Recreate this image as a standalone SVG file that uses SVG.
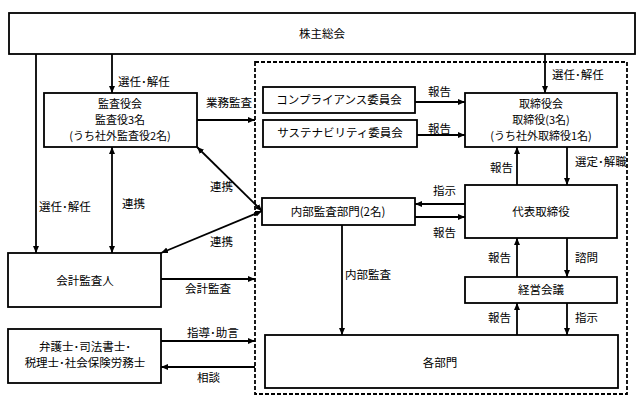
<svg xmlns="http://www.w3.org/2000/svg" width="640" height="405" viewBox="0 0 640 405">
<style>
text{font-family:"Noto Sans CJK JP","Noto Sans",sans-serif;font-size:11.5px;fill:#000}
.c{text-anchor:middle}
.m{font-size:11px}
.box{fill:#fff;stroke:#000;stroke-width:1.8}
.ln{fill:none;stroke:#000;stroke-width:1.8}
.a{marker-end:url(#ah)}
.d{marker-start:url(#ah);marker-end:url(#ah)}
.dash{fill:none;stroke:#000;stroke-width:1.8;stroke-dasharray:4 2}
</style>
<defs>
<marker id="ah" markerUnits="userSpaceOnUse" markerWidth="8" markerHeight="8" refX="7" refY="3" orient="auto-start-reverse">
<path d="M0,0 L7,3 L0,6 z" fill="#000"/>
</marker>
</defs>
<rect width="640" height="405" fill="#fff"/>
<rect class="dash" x="255" y="62" width="372" height="332"/>

<g id="connectors">
<line class="ln a" x1="36" y1="54" x2="36" y2="253"/>
<line class="ln a" x1="112" y1="54" x2="112" y2="93"/>
<line class="ln d" x1="112" y1="147" x2="112" y2="253"/>
<line class="ln d" x1="197" y1="147" x2="262" y2="211"/>
<line class="ln d" x1="161" y1="253" x2="262" y2="211"/>
<line class="ln a" x1="197" y1="120" x2="255" y2="120"/>
<line class="ln a" x1="161" y1="279" x2="255" y2="279"/>
<line class="ln a" x1="161" y1="341" x2="255" y2="341"/>
<line class="ln a" x1="255" y1="367" x2="161" y2="367"/>
<line class="ln a" x1="415" y1="102" x2="465" y2="102"/>
<line class="ln a" x1="417" y1="135" x2="465" y2="135"/>
<line class="ln a" x1="545" y1="54" x2="545" y2="93"/>
<line class="ln a" x1="517" y1="185" x2="517" y2="147"/>
<line class="ln a" x1="567" y1="147" x2="567" y2="185"/>
<line class="ln a" x1="465" y1="204" x2="415" y2="204"/>
<line class="ln a" x1="415" y1="217" x2="465" y2="217"/>
<line class="ln a" x1="517" y1="277" x2="517" y2="238"/>
<line class="ln a" x1="567" y1="238" x2="567" y2="277"/>
<line class="ln a" x1="517" y1="335" x2="517" y2="303"/>
<line class="ln a" x1="567" y1="303" x2="567" y2="335"/>
<line class="ln a" x1="342" y1="225" x2="342" y2="335"/>

<text x="118" y="86">選任･解任</text>
<text x="39" y="211">選任･解任</text>
<text x="122" y="208">連携</text>
<text x="210" y="191">連携</text>
<text x="210" y="246">連携</text>
<text x="206" y="107">業務監査</text>
<text x="185" y="293">会計監査</text>
<text x="187" y="337">指導･助言</text>
<text x="197" y="382">相談</text>
<text x="428" y="96">報告</text>
<text x="428" y="133">報告</text>
<text x="552" y="79">選任･解任</text>
<text x="490" y="172">報告</text>
<text x="575" y="166">選定･解職</text>
<text x="433" y="195">指示</text>
<text x="433" y="237">報告</text>
<text x="345" y="279">内部監査</text>
<text x="488" y="262">報告</text>
<text x="575" y="262">諮問</text>
<text x="488" y="322">報告</text>
<text x="575" y="322">指示</text>
</g>

<g id="shareholders">
<rect class="box" x="9" y="13" width="626" height="41"/>
<text class="c" x="322" y="38">株主総会</text>
</g>
<g id="auditboard">
<rect class="box" x="44" y="93" width="153" height="54"/>
<text class="c m" x="120" y="108">監査役会</text>
<text class="c m" x="120" y="124">監査役3名</text>
<text class="c m" x="120" y="140">(うち社外監査役2名)</text>
</g>
<g id="accountant">
<rect class="box" x="8" y="253" width="153" height="54"/>
<text class="c" x="85" y="285">会計監査人</text>
</g>
<g id="advisors">
<rect class="box" x="8" y="329" width="153" height="54"/>
<text class="c" x="85" y="351">弁護士･司法書士･</text>
<text class="c" x="85" y="367">税理士･社会保険労務士</text>
</g>
<g id="compliance">
<rect class="box" x="263" y="87" width="152" height="26"/>
<text class="c" x="339" y="104">コンプライアンス委員会</text>
</g>
<g id="sustainability">
<rect class="box" x="263" y="120" width="154" height="27"/>
<text class="c" x="340" y="137">サステナビリティ委員会</text>
</g>
<g id="board">
<rect class="box" x="465" y="93" width="152" height="54"/>
<text class="c m" x="541" y="108">取締役会</text>
<text class="c m" x="541" y="124">取締役(3名)</text>
<text class="c m" x="541" y="140">(うち社外取締役1名)</text>
</g>
<g id="internalaudit">
<rect class="box" x="262" y="198" width="153" height="27"/>
<text class="c" x="338" y="216">内部監査部門(2名)</text>
</g>
<g id="president">
<rect class="box" x="465" y="185" width="152" height="53"/>
<text class="c" x="541" y="216">代表取締役</text>
</g>
<g id="management">
<rect class="box" x="465" y="277" width="152" height="26"/>
<text class="c" x="541" y="294">経営会議</text>
</g>
<g id="departments">
<rect class="box" x="265" y="335" width="353" height="53"/>
<text class="c" x="440" y="367">各部門</text>
</g>
</svg>
